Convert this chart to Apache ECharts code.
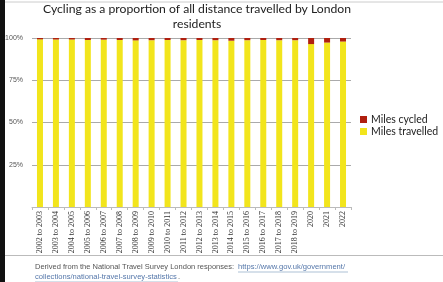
<!DOCTYPE html>
<html>
<head>
<meta charset="utf-8">
<script src="https://cdn.jsdelivr.net/npm/echarts@6/dist/echarts.min.js"></script>
<style>
  html, body { margin: 0; padding: 0; background: #fff; }
  #chart { width: 443px; height: 282px; }
</style>
</head>
<body>
<div id="chart"></div>
<script>
// Survey periods (x axis)
const periods = [
  '2002 to 2003', '2003 to 2004', '2004 to 2005', '2005 to 2006', '2006 to 2007',
  '2007 to 2008', '2008 to 2009', '2009 to 2010', '2010 to 2011', '2011 to 2012',
  '2012 to 2013', '2013 to 2014', '2014 to 2015', '2015 to 2016', '2016 to 2017',
  '2017 to 2018', '2018 to 2019', '2020', '2021', '2022'
];
// Share of all distance travelled that was cycled (%)
const milesCycled = [
  0.8, 0.9, 0.9, 1.2, 1.0, 1.2, 1.4, 1.3, 1.2, 1.3,
  1.2, 1.3, 1.6, 1.3, 1.2, 1.3, 1.3, 3.6, 2.7, 2.1
];
// Remaining share travelled by other means (%)
const milesTravelled = [
  99.2, 99.1, 99.1, 98.8, 99.0, 98.8, 98.6, 98.7, 98.8, 98.7,
  98.8, 98.7, 98.4, 98.7, 98.8, 98.7, 98.7, 96.4, 97.3, 97.9
];
const yTicks = [0, 25, 50, 75, 100];

const chart = echarts.init(document.getElementById('chart'), null, { renderer: 'canvas' });

chart.setOption({
  backgroundColor: '#ffffff',
  animation: false,
  title: {
    text: 'Cycling as a proportion of all distance travelled by London\nresidents',
    left: 192,
    textAlign: 'center',
    top: -3,
    textStyle: {
      fontFamily: 'Lato',
      fontSize: 12.2,
      fontWeight: 'normal',
      color: '#222',
      lineHeight: 15
    }
  },
  legend: {
    orient: 'vertical',
    left: 355,
    top: 109,
    itemWidth: 7,
    itemHeight: 7,
    itemGap: 1,
    icon: 'rect',
    data: ['Miles cycled', 'Miles travelled'],
    textStyle: { fontFamily: 'Lato', fontSize: 10.5, color: '#222', padding: [0, 0, 0, -1] }
  },
  grid: { left: 32, right: 92, top: 38, bottom: 75 },
  xAxis: {
    type: 'category',
    data: periods,
    axisLine: { lineStyle: { color: '#bbb', width: 1 } },
    axisTick: { show: true, length: 3, lineStyle: { color: '#bbb' } },
    axisLabel: {
      rotate: 90,
      interval: 0,
      margin: 4,
      fontFamily: 'Liberation Serif',
      fontSize: 8,
      color: '#333'
    }
  },
  yAxis: {
    type: 'value',
    min: yTicks[0],
    max: yTicks[yTicks.length - 1],
    interval: 25,
    axisLine: { show: false },
    axisTick: { show: false },
    axisLabel: {
      fontFamily: 'Liberation Sans',
      fontSize: 7,
      color: '#555',
      margin: 9,
      formatter: v => (v === 0 ? '' : v + '%')
    },
    splitLine: { lineStyle: { color: '#aaa', width: 1 } }
  },
  series: [
    {
      name: 'Miles travelled',
      type: 'bar',
      stack: 'total',
      data: milesTravelled,
      barWidth: 6,
      itemStyle: { color: '#F2E51C' }
    },
    {
      name: 'Miles cycled',
      type: 'bar',
      stack: 'total',
      data: milesCycled,
      barWidth: 6,
      itemStyle: { color: '#B0200F' }
    }
  ],
  graphic: [
    { type: 'rect', shape: { x: 0, y: 0, width: 5, height: 282 }, style: { fill: '#111' } },
    { type: 'line', shape: { x1: 5, y1: 2, x2: 443, y2: 2 }, style: { stroke: '#ccc', lineWidth: 1 } },
    { type: 'line', shape: { x1: 5, y1: 255.5, x2: 443, y2: 255.5 }, style: { stroke: '#bbb', lineWidth: 1 } },
    {
      type: 'text', left: 35, top: 263,
      style: {
        text: 'Derived from the National Travel Survey London responses:',
        fontFamily: 'Liberation Sans', fontSize: 7.5, fill: '#555'
      }
    },
    {
      type: 'text', left: 238, top: 263,
      style: {
        text: 'https://www.gov.uk/government/',
        fontFamily: 'Liberation Sans', fontSize: 7.6, fill: '#5577aa'
      }
    },
    { type: 'line', shape: { x1: 238, y1: 272, x2: 348, y2: 272 }, style: { stroke: '#7799bb', lineWidth: 0.6 } },
    {
      type: 'text', left: 35, top: 273,
      style: {
        text: 'collections/national-travel-survey-statistics',
        fontFamily: 'Liberation Sans', fontSize: 7.6, fill: '#5577aa'
      }
    },
    { type: 'line', shape: { x1: 35, y1: 282, x2: 178, y2: 282 }, style: { stroke: '#7799bb', lineWidth: 0.6 } },
    {
      type: 'text', left: 178, top: 273,
      style: { text: '.', fontFamily: 'Liberation Sans', fontSize: 7.6, fill: '#555' }
    }
  ]
});
</script>
</body>
</html>
